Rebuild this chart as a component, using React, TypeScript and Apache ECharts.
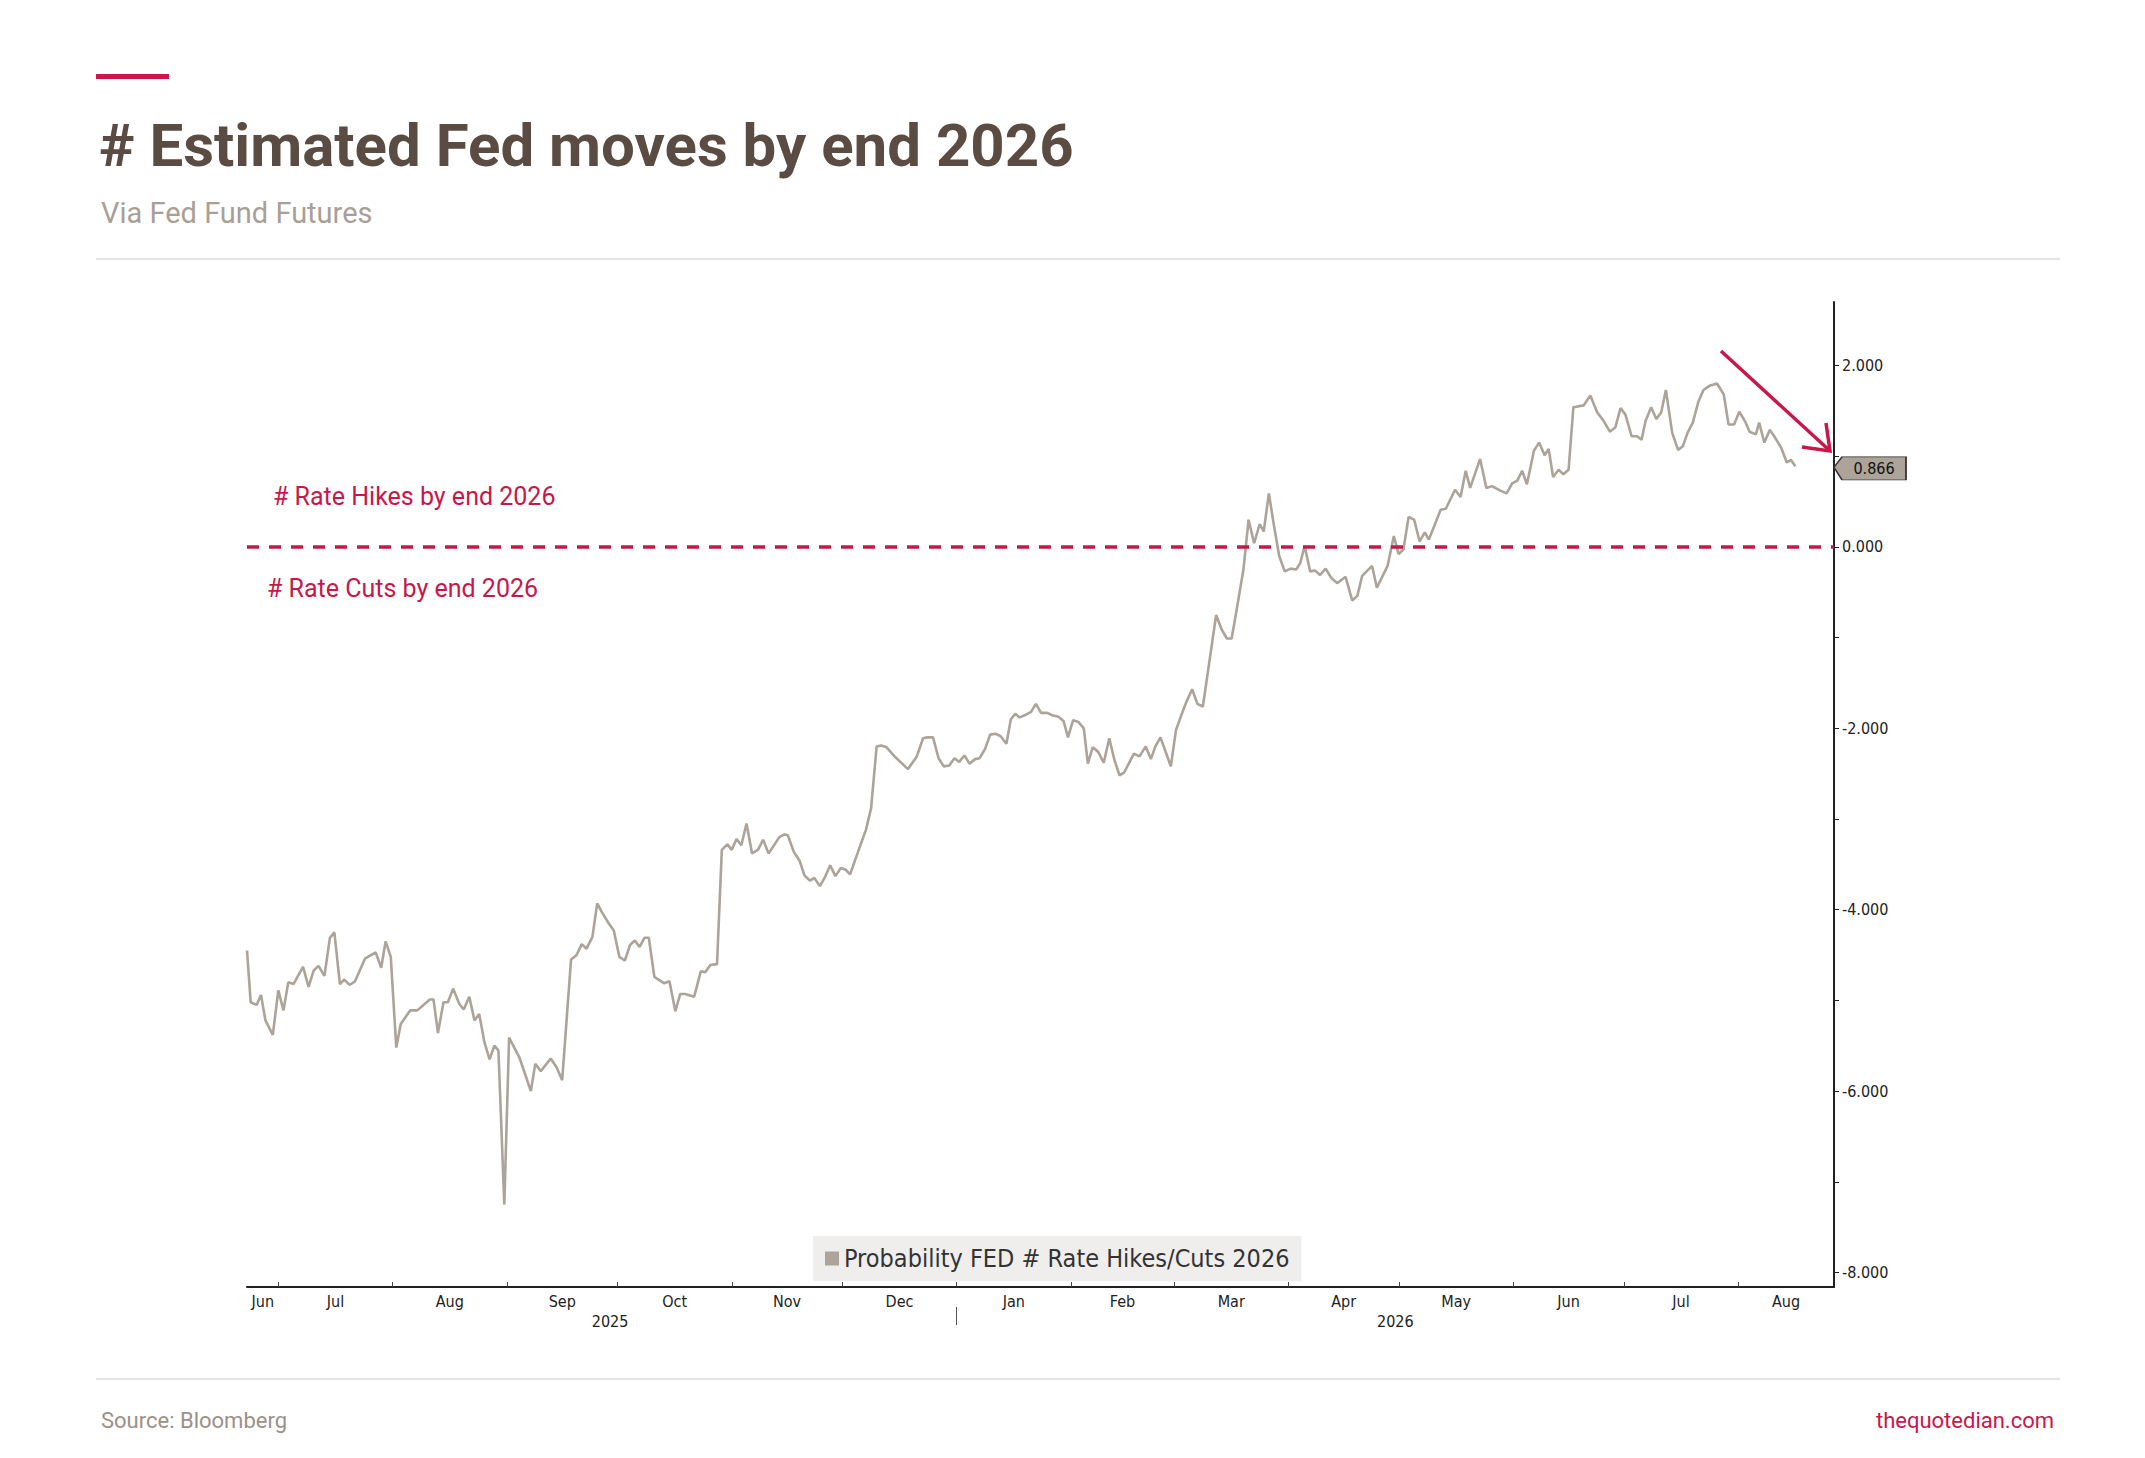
import { useEffect, useRef } from 'react';
import * as echarts from 'echarts';

// x = days since 2025-07-01, y = estimated # of Fed moves by end 2026
const dayOffsets = [
  -8.5, -7.5, -5.9, -4.7, -3.5, -1.5, 0, 1.4, 2.7, 4.1, 6.7, 8.2, 9.6, 10.9, 12.5, 14, 15.2, 16.7, 17.9, 19.3,
  20.8, 23.5, 26.4, 27.9, 29.1, 30.5, 32, 33.2, 35.8, 37.7, 41.1, 42.1, 43.3, 44.8, 46, 47.4, 49.1, 50.3, 51.8, 53.2,
  54.5, 55.9, 57.3, 58.6, 59.7, 61.3, 62.6, 65.4, 68.5, 69.7, 71.2, 73.9, 75.5, 77, 79.4, 80.9, 82.3, 83.6, 85.2, 86.5,
  87.8, 89.6, 91, 92.5, 94, 95.4, 96.7, 98, 99.3, 100.5, 102, 104.6, 106.1, 107.7, 109, 110.4, 112.8, 114.6, 115.8, 117.2,
  119, 120.3, 121.8, 123, 124.3, 125.6, 127, 128.5, 130.1, 131.5, 133, 135.9, 137.3, 138.2, 139.8, 141.4,
  142.7, 144.2, 145.4, 146.9, 148.3, 149.7, 151.1, 152.6, 153.9, 155.1, 157.7, 159.4, 160.8, 162.3, 163.5, 165, 167.4,
  170.8, 173.2, 174.9, 176.1, 177.6, 179.1, 180.5, 182, 183.4, 184.7, 186.1, 187.5, 189, 190.2, 191.7, 193.1, 194.6,
  196, 197.5, 198.7, 199.9, 201.1, 202.8, 204.2, 205.5, 206.9, 208.6, 210.1, 211.5, 213, 214.2, 215.6, 217, 218.5,
  219.6, 220.9, 222.4, 223.9, 225.4, 226.8, 228.2, 229.4, 232.1, 233.6, 235.3, 236.7, 237.9, 239.3, 242.1, 243.5, 245,
  246.2, 247.9, 249.3, 250.8,
  254.4, 255.9, 257.3, 258.6, 260.1, 261.8, 263.2, 264.7, 266.2, 267.3, 268.7, 270.1, 271.5, 273, 274.6, 276.1, 277.2,
  278.4, 279.9, 281.2, 282.6, 284.1, 285.6, 287.2, 289.5, 291.3, 292.7, 294, 296.7, 298, 300.9, 302.6, 303.9, 305.2,
  306.6, 308.1, 309.6, 311, 312.1, 315.3, 316.7, 319.2, 320.7, 322.1, 323.3, 326, 327.7, 329.2, 331.5, 333.2, 334.7,
  336.1, 337.4, 338.7, 340.6, 342, 343.5, 344.6, 345.8, 347.3, 348.6, 350, 351.3, 354.1, 355.9, 357.8, 359.5, 361.2,
  362.7, 364.1, 365.4, 367.1, 368.6, 369.8, 370.9, 372.4, 373.8, 375.1, 376.4, 378.1, 379.7, 381, 382.3, 383.7, 385.2,
  386.6, 388.4, 390.3, 392.1, 393.4, 394.9, 396.3, 397.8, 399.1, 400.8, 401.7, 403.1, 404.6, 406.1, 407.7, 409.2,
  410.3, 411.5,
];
const fedMoves = [
  -4.45, -5.02, -5.05, -4.94, -5.22, -5.38, -4.89, -5.11, -4.8, -4.82, -4.63, -4.85, -4.67, -4.62, -4.73, -4.31, -4.25, -4.82, -4.77, -4.83,
  -4.79, -4.54, -4.47, -4.64, -4.35, -4.52, -5.52, -5.26, -5.11, -5.11, -4.99, -4.99, -5.36, -5.02, -5.02, -4.87, -5.04, -5.1, -4.96, -5.22,
  -5.15, -5.46, -5.65, -5.5, -5.55, -7.25, -5.41, -5.63, -6.0, -5.7, -5.78, -5.64, -5.74, -5.88, -4.55, -4.5, -4.38, -4.43, -4.3, -3.93,
  -4.03, -4.15, -4.23, -4.52, -4.56, -4.39, -4.34, -4.41, -4.31, -4.31, -4.74, -4.81, -4.79, -5.12, -4.93, -4.93, -4.96, -4.68, -4.69, -4.61,
  -4.6, -3.34, -3.28, -3.34, -3.22, -3.29, -3.05, -3.38, -3.34, -3.23, -3.38, -3.2, -3.17, -3.18, -3.36, -3.46,
  -3.62, -3.68, -3.65, -3.74, -3.64, -3.51, -3.63, -3.54, -3.56, -3.61, -3.31, -3.12, -2.88, -2.2, -2.19, -2.21, -2.32,
  -2.45, -2.31, -2.11, -2.1, -2.1, -2.33, -2.42, -2.41, -2.33, -2.37, -2.3, -2.39, -2.34, -2.33, -2.23, -2.07, -2.06,
  -2.09, -2.17, -1.9, -1.84, -1.88, -1.85, -1.82, -1.73, -1.83, -1.83, -1.86, -1.87, -1.92, -2.1, -1.91, -1.93, -2.0,
  -2.39, -2.21, -2.26, -2.38, -2.11, -2.35, -2.52, -2.49, -2.28, -2.31, -2.2, -2.34, -2.2, -2.1, -2.42, -2.02, -1.85,
  -1.72, -1.57, -1.73, -1.76,
  -0.75, -0.91, -1.01, -1.01, -0.66, -0.25, 0.3, 0.04, 0.25, 0.17, 0.59, 0.23, -0.1, -0.27, -0.24, -0.25, -0.18,
  0.01, -0.27, -0.26, -0.31, -0.24, -0.34, -0.4, -0.33, -0.59, -0.54, -0.32, -0.21, -0.45, -0.21, 0.12, -0.08, -0.03,
  0.33, 0.3, 0.06, 0.16, 0.08, 0.41, 0.42, 0.63, 0.55, 0.84, 0.65, 0.97, 0.65, 0.67, 0.62, 0.59, 0.7,
  0.73, 0.84, 0.69, 1.06, 1.15, 1.01, 1.08, 0.77, 0.85, 0.8, 0.85, 1.54, 1.56, 1.67, 1.48, 1.39, 1.27,
  1.32, 1.53, 1.46, 1.22, 1.22, 1.18, 1.39, 1.54, 1.41, 1.48, 1.73, 1.26, 1.07, 1.11, 1.26, 1.37, 1.6,
  1.73, 1.78, 1.8, 1.68, 1.35, 1.35, 1.49, 1.39, 1.27, 1.24, 1.37, 1.15, 1.29, 1.2, 1.09, 0.93,
  0.96, 0.89,
];
const lastValue = 0.866;

const monthStarts = [
  '2025-06-01', '2025-07-01', '2025-08-01', '2025-09-01', '2025-10-01', '2025-11-01', '2025-12-01', '2026-01-01',
  '2026-02-01', '2026-03-01', '2026-04-01', '2026-05-01', '2026-06-01', '2026-07-01', '2026-08-01', '2026-09-01',
];
const monthNames = ['Jan', 'Feb', 'Mar', 'Apr', 'May', 'Jun', 'Jul', 'Aug', 'Sep', 'Oct', 'Nov', 'Dec'];
const yearLabels = [{ year: '2025', date: '2025-09-29' }, { year: '2026', date: '2026-04-30' }];
const yTicks = [-8, -7, -6, -5, -4, -3, -2, -1, 0, 1, 2];
const yLabels = [-8, -6, -4, -2, 0, 2];

const X_MIN = -8.5;
const X_MAX = 422;
const BASE = Date.UTC(2025, 6, 1);
const toDay = (s: string) => {
  const [y, m, d] = s.split('-').map(Number);
  return (Date.UTC(y, m - 1, d) - BASE) / 86400000;
};

const RED = '#c8174a';
const NARROW = '"Liberation Sans Narrow", "DejaVu Sans Condensed", Arial, sans-serif';

export default function App() {
  const ref = useRef<HTMLDivElement>(null);

  useEffect(() => {
    document.body.style.margin = '0';
    if (!ref.current) return;
    const chart = echarts.init(ref.current, undefined, { renderer: 'svg' });

    const starts = monthStarts.map(toDay);
    const tickDays = starts.filter(d => d > X_MIN && d < X_MAX);
    const labelDays: number[] = [];
    const labelNames = new Map<number, string>();
    for (let i = 0; i < starts.length - 1; i++) {
      const a = Math.max(starts[i], X_MIN);
      const b = Math.min(starts[i + 1], X_MAX);
      if (b <= a) continue;
      const mid = Math.round(((a + b) / 2) * 10) / 10;
      labelDays.push(mid);
      labelNames.set(mid, monthNames[Number(monthStarts[i].slice(5, 7)) - 1]);
    }
    const yearDays = yearLabels.map(y => toDay(y.date));
    const yearSep = toDay('2026-01-01');

    const baseX = {
      type: 'value',
      min: X_MIN,
      max: X_MAX,
      splitLine: { show: false },
    };

    chart.setOption({
      animation: false,
      backgroundColor: '#ffffff',
      textStyle: { fontFamily: 'Roboto, sans-serif' },
      title: [
        {
          text: '# Estimated Fed moves by end 2026',
          left: 94, top: 110,
          textStyle: { fontSize: 60, fontWeight: 'bold', color: '#5a4c42', fontFamily: 'Roboto, sans-serif' },
        },
        {
          text: 'Via Fed Fund Futures',
          left: 96, top: 193,
          textStyle: { fontSize: 29, fontWeight: 'normal', color: '#a99f96' },
        },
        {
          text: 'Source: Bloomberg',
          left: 96, top: 1404,
          textStyle: { fontSize: 22, fontWeight: 'normal', color: '#9b9189', letterSpacing: 1.5 },
        },
        {
          text: 'thequotedian.com',
          right: 86, top: 1404,
          textStyle: { fontSize: 22, fontWeight: 'normal', color: RED, letterSpacing: 1.5 },
        },
      ],
      legend: {
        left: 813, top: 1236,
        padding: [10, 12, 10, 12],
        backgroundColor: '#efeeed',
        icon: 'rect',
        itemWidth: 14, itemHeight: 14, itemGap: 6,
        textStyle: { fontSize: 25, color: '#333333', fontFamily: NARROW },
        data: ['Probability FED # Rate Hikes/Cuts 2026'],
      },
      grid: { left: 247, right: 311, top: 302, bottom: 171 },
      xAxis: [
        {
          ...baseX,
          position: 'bottom',
          axisLine: { show: true, onZero: false, lineStyle: { color: '#222', width: 2 } },
          axisTick: { show: true, inside: true, length: 5, customValues: tickDays, lineStyle: { color: '#444' } },
          axisLabel: { show: false },
        },
        {
          ...baseX,
          position: 'bottom',
          axisLine: { show: false, onZero: false },
          axisTick: { show: false },
          axisLabel: {
            customValues: labelDays,
            formatter: (v: number) => labelNames.get(Math.round(v * 10) / 10) ?? '',
            color: '#222', fontSize: 16, fontFamily: NARROW, margin: 6,
          },
        },
        {
          ...baseX,
          position: 'bottom',
          offset: 20,
          axisLine: { show: false, onZero: false },
          axisTick: { show: true, inside: false, length: 18, customValues: [yearSep], lineStyle: { color: '#555' } },
          axisLabel: {
            customValues: yearDays,
            formatter: (v: number) => yearLabels[yearDays.findIndex(d => Math.abs(d - v) < 0.5)]?.year ?? '',
            color: '#222', fontSize: 16, fontFamily: NARROW, margin: 6,
          },
        },
      ],
      yAxis: {
        type: 'value',
        position: 'right',
        min: -8.16,
        max: 2.7,
        splitLine: { show: false },
        axisLine: { show: true, onZero: false, lineStyle: { color: '#222', width: 2 } },
        axisTick: { show: true, length: 5, customValues: yTicks, lineStyle: { color: '#222' } },
        axisLabel: {
          customValues: yLabels,
          formatter: (v: number) => v.toFixed(3),
          color: '#222', fontSize: 16, fontFamily: NARROW, margin: 8,
        },
      },
      series: [
        {
          name: 'Probability FED # Rate Hikes/Cuts 2026',
          type: 'line',
          data: dayOffsets.map((d, i) => [d, fedMoves[i]]),
          showSymbol: false,
          symbol: 'none',
          itemStyle: { color: '#aca399' },
          lineStyle: { color: '#aca399', width: 2.6 },
          markLine: {
            silent: true,
            symbol: 'none',
            label: { show: false },
            lineStyle: { color: RED, type: [12, 10], width: 3.5 },
            data: [{ yAxis: 0 }],
          },
          markPoint: {
            silent: true,
            symbol: 'path://M0,10 L8,0 L72,0 L72,22 L8,22 Z',
            symbolSize: [72, 23],
            symbolOffset: [36, 0],
            itemStyle: { color: '#aca399', borderColor: '#333', borderWidth: 1 },
            label: {
              show: true, formatter: lastValue.toFixed(3), color: '#111', fontSize: 16,
              fontFamily: NARROW, offset: [4, 0],
            },
            data: [{ coord: [X_MAX, lastValue] }],
          },
        },
      ],
      graphic: [
        { type: 'rect', shape: { x: 96, y: 74, width: 73, height: 5 }, style: { fill: RED } },
        { type: 'line', shape: { x1: 96, y1: 259, x2: 2060, y2: 259 }, style: { stroke: '#dcdcdc', lineWidth: 1.5 } },
        { type: 'line', shape: { x1: 96, y1: 1379, x2: 2060, y2: 1379 }, style: { stroke: '#dcdcdc', lineWidth: 1.5 } },
        {
          type: 'text', left: 273, top: 484,
          style: { text: '# Rate Hikes by end 2026', fill: RED, fontSize: 25, fontFamily: 'Roboto, sans-serif' },
        },
        {
          type: 'text', left: 267, top: 576,
          style: { text: '# Rate Cuts by end 2026', fill: RED, fontSize: 25, fontFamily: 'Roboto, sans-serif' },
        },
        { type: 'line', shape: { x1: 1721, y1: 351, x2: 1829, y2: 450 }, style: { stroke: RED, lineWidth: 3.5 } },
        {
          type: 'polyline',
          shape: { points: [[1802, 447], [1830, 451], [1826, 423]] },
          style: { stroke: RED, lineWidth: 3.5, fill: 'none' },
        },
      ],
    });

    return () => chart.dispose();
  }, []);

  return <div ref={ref} style={{ width: 2145, height: 1458 }} />;
}
